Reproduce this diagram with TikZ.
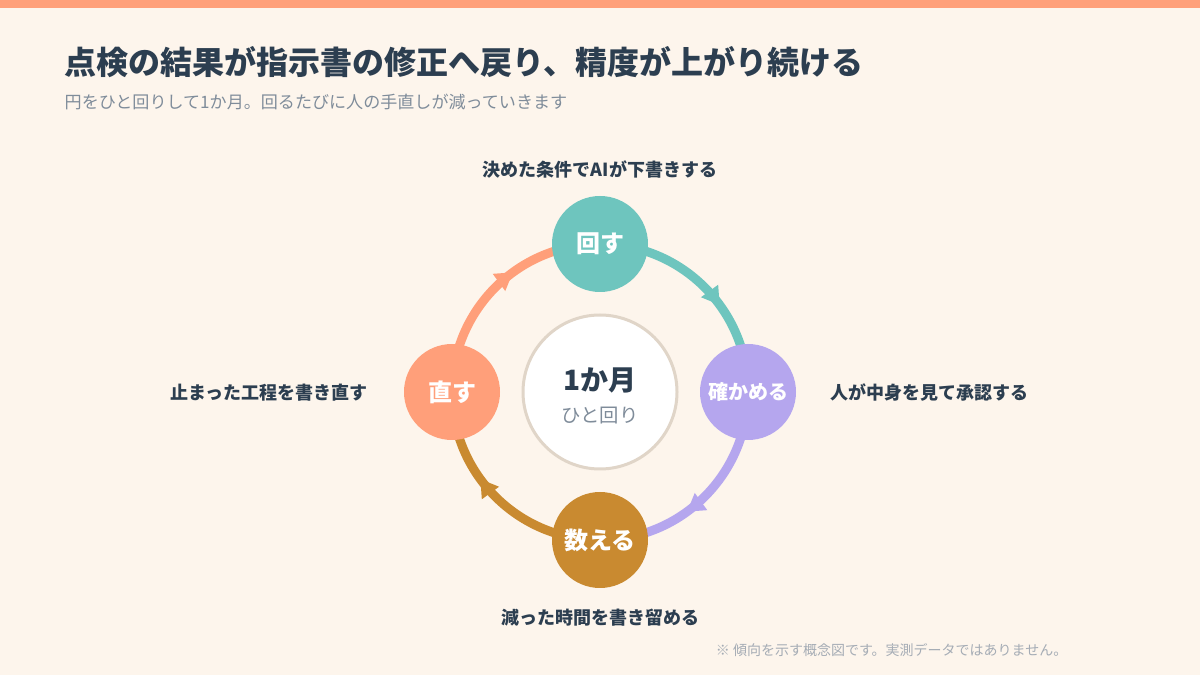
\documentclass[tikz,border=0pt]{standalone}
\usepackage{fontspec}
\setmainfont{Noto Sans CJK JP}
\usetikzlibrary{arrows.meta,decorations.markings}
\definecolor{bg}{HTML}{FDF5EC}
\definecolor{bar}{HTML}{FFA07A}
\definecolor{dark}{HTML}{2C3E50}
\definecolor{gray}{HTML}{7F8C9A}
\definecolor{lgray}{HTML}{A5ACB5}
\definecolor{cteal}{HTML}{6EC5BE}
\definecolor{cpurp}{HTML}{B5A6EE}
\definecolor{cgold}{HTML}{C98A30}
\definecolor{csalm}{HTML}{FF9F7A}
\definecolor{ring}{HTML}{E0D5C8}
\begin{document}
\begin{tikzpicture}[x=0.75pt,y=0.75pt,
  stepnode/.style={circle,minimum size=96*0.75pt,inner sep=0pt,text=white,font=\bfseries\fontsize{18}{20}\selectfont},
  lbl/.style={text=dark,font=\bfseries\fontsize{13.5}{16}\selectfont},
  arc/.style={line width=6.75pt,draw=#1,postaction={decorate},decoration={markings,mark=at position 0.6 with {\arrow[#1]{Triangle[length=13pt,width=15pt]}}}}]
\useasboundingbox (0,0) rectangle (1200,675);
\fill[bg] (0,0) rectangle (1200,675);
\fill[bar] (0,667) rectangle (1200,675);
\node[anchor=west,text=dark,font=\bfseries\fontsize{24}{28}\selectfont] (title) at (60,613) {点検の結果が指示書の修正へ戻り、精度が上がり続ける};
\node[anchor=west,text=gray,font=\fontsize{12.8}{15}\selectfont] (sub) at (60,573) {円をひと回りして1か月。回るたびに人の手直しが減っていきます};
\coordinate (c) at (600,283);
\draw[arc=cteal] (600,431) arc[start angle=90,end angle=0,radius=148];
\draw[arc=cpurp] (748,283) arc[start angle=0,end angle=-90,radius=148];
\draw[arc=cgold] (600,135) arc[start angle=270,end angle=180,radius=148];
\draw[arc=csalm] (452,283) arc[start angle=180,end angle=90,radius=148];
\node[circle,fill=white,draw=ring,line width=2.25pt,minimum size=154*0.75pt] (ctr) at (c) {};
\node[text=dark,font=\bfseries\fontsize{21}{24}\selectfont] (m) at (600,295) {1か月};
\node[text=gray,font=\fontsize{14.5}{17}\selectfont] (r) at (600,259) {ひと回り};
\node[stepnode,fill=cteal] (n1) at (600,431) {回す};
\node[stepnode,fill=cpurp,font=\bfseries\fontsize{15}{18}\selectfont] (n2) at (748,283) {確かめる};
\node[stepnode,fill=cgold] (n3) at (600,135) {数える};
\node[stepnode,fill=csalm] (n4) at (452,283) {直す};
\node[lbl] (l1) at (600,505) {決めた条件でAIが下書きする};
\node[lbl,anchor=west] (l2) at (826,282) {人が中身を見て承認する};
\node[lbl,anchor=east] (l4) at (372,282) {止まった工程を書き直す};
\node[lbl] (l3) at (600,57) {減った時間を書き留める};
\node[anchor=east,text=lgray,font=\fontsize{10.5}{12}\selectfont] (note) at (1072,25) {※ 傾向を示す概念図です。実測データではありません。};
\end{tikzpicture}
\end{document}
